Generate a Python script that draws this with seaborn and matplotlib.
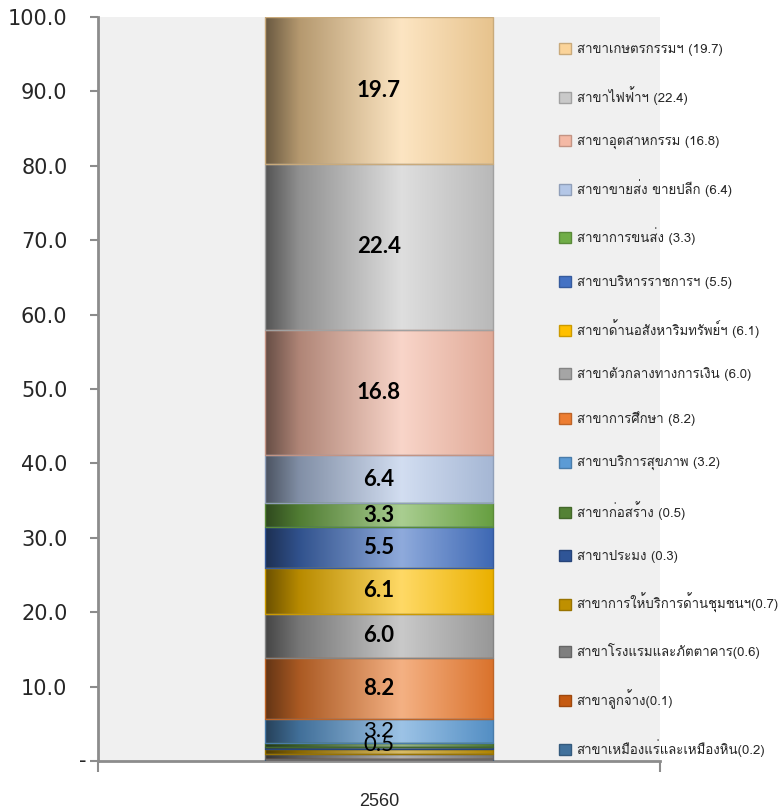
import numpy as np
import matplotlib
matplotlib.use("Agg")
import matplotlib.pyplot as plt
import matplotlib.colors as mcolors
from matplotlib.patches import Patch
from matplotlib import font_manager
from matplotlib.ft2font import FT2Font
import seaborn as sns

# ข้อมูล (เรียงจากล่างขึ้นบนของแท่ง)
year = "2560"
sectors = [
    "สาขาเหมืองแร่และเหมืองหิน", "สาขาลูกจ้าง", "สาขาโรงแรมและภัตตาคาร",
    "สาขาการให้บริการด้านชุมชนฯ", "สาขาประมง", "สาขาก่อสร้าง",
    "สาขาบริการสุขภาพ", "สาขาการศึกษา", "สาขาตัวกลางทางการเงิน",
    "สาขาด้านอสังหาริมทรัพย์ฯ", "สาขาบริหารราชการฯ", "สาขาการขนส่ง",
    "สาขาขายส่ง ขายปลีก", "สาขาอุตสาหกรรม", "สาขาไฟฟ้าฯ", "สาขาเกษตรกรรมฯ",
]
values = [0.2, 0.1, 0.6, 0.7, 0.3, 0.5, 3.2, 8.2, 6.0, 6.1, 5.5, 3.3, 6.4, 16.8, 22.4, 19.7]
legend_labels = [
    "สาขาเหมืองแร่และเหมืองหิน(0.2)", "สาขาลูกจ้าง(0.1)", "สาขาโรงแรมและภัตตาคาร(0.6)",
    "สาขาการให้บริการด้านชุมชนฯ(0.7)", "สาขาประมง (0.3)", "สาขาก่อสร้าง (0.5)",
    "สาขาบริการสุขภาพ (3.2)", "สาขาการศึกษา (8.2)", "สาขาตัวกลางทางการเงิน (6.0)",
    "สาขาด้านอสังหาริมทรัพย์ฯ (6.1)", "สาขาบริหารราชการฯ (5.5)", "สาขาการขนส่ง (3.3)",
    "สาขาขายส่ง ขายปลีก (6.4)", "สาขาอุตสาหกรรม (16.8)", "สาขาไฟฟ้าฯ (22.4)",
    "สาขาเกษตรกรรมฯ (19.7)",
]
colors = [
    "#41719C", "#C55A11", "#7F7F7F", "#BF9000", "#2F5597", "#548235",
    "#5B9BD5", "#ED7D31", "#A5A5A5", "#FFC000", "#4472C4", "#70AD47",
    "#B4C7E7", "#F4B9A5", "#C9C9C9", "#FBD49A",
]
# ป้ายตัวเลขในแท่ง: bold / normal / None (ไม่แสดง)
label_style = [None, None, None, None, None, "normal", "normal", "bold", "bold",
               "bold", "bold", "bold", "bold", "bold", "bold", "bold"]


def find_thai_font():
    # หาฟอนต์ที่มีอักษรไทย
    for f in font_manager.fontManager.ttflist:
        try:
            if FT2Font(f.fname).get_char_index(0x0E2A):
                return f.name
        except Exception:
            pass
    return "DejaVu Sans"


def gradient_image(color):
    base = np.array(mcolors.to_rgb(color))
    xs = np.linspace(0, 1, 200)
    keys = [0.0, 0.15, 0.6, 1.0]
    cols = [base * 0.42, base * 0.72, base + (1 - base) * 0.4, base * 0.92]
    img = np.zeros((1, len(xs), 3))
    for c in range(3):
        img[0, :, c] = np.interp(xs, keys, [k[c] for k in cols])
    return np.clip(img, 0, 1)


sns.set_style("white")
thai_font = find_thai_font()
plt.rcParams["font.family"] = ["DejaVu Sans"]

fig = plt.figure(figsize=(7.84, 8.11), dpi=100)
ax = fig.add_axes([0.125, 0.0617, 0.7168, 0.9173])
ax.set_facecolor("#F0F0F0")

bottom = 0.0
for name, val, col, style in zip(sectors, values, colors, label_style):
    sns.barplot(x=[year], y=[val], bottom=bottom, color=col, width=0.404,
                errorbar=None, ax=ax, saturation=1)
    p = ax.patches[-1]
    x0, w = p.get_x(), p.get_width()
    ax.imshow(gradient_image(col), extent=(x0, x0 + w, bottom, bottom + val),
              aspect="auto", origin="lower", zorder=2, interpolation="bilinear")
    p.set_facecolor("none")
    p.set_edgecolor(np.array(mcolors.to_rgb(col)) * 0.8)
    p.set_linewidth(1.0)
    p.set_zorder(3)
    if style is not None:
        ax.text(0, bottom + val / 2, f"{val:.1f}", ha="center", va="center",
                fontsize=16, fontweight=style, family="Lato", color="black", zorder=4)
    bottom += val

ax.set_xlim(-0.5, 0.5)
ax.set_ylim(0, 100)
ax.set_yticks(np.arange(0, 101, 10))
ax.set_yticklabels([""] + [f"{v:.1f}" for v in range(10, 101, 10)], fontsize=15)
ax.text(-0.027, 0, "-", transform=ax.get_yaxis_transform(), ha="center", va="center",
        fontsize=15)
ax.tick_params(axis="y", length=6, width=1.5, color="#8C8C8C", pad=16, left=True)
ax.set_xticks([0])
ax.set_xticklabels([year], fontsize=13, family="Liberation Sans")
ax.set_xticks([-0.5, 0.5], minor=True)
ax.tick_params(axis="x", which="major", length=0, pad=23)
ax.tick_params(axis="x", which="minor", length=8, width=1.5, color="#8C8C8C", bottom=True)
ax.set_xlabel("")
ax.set_ylabel("")

for s in ["top", "right"]:
    ax.spines[s].set_visible(False)
for s in ["left", "bottom"]:
    ax.spines[s].set_color("#8C8C8C")
    ax.spines[s].set_linewidth(2)

handles = [Patch(facecolor=c, edgecolor=np.array(mcolors.to_rgb(c)) * 0.8, linewidth=1)
           for c in colors]
ax.legend(handles[::-1], legend_labels[::-1], loc="upper left",
          bbox_to_anchor=(0.821, 0.965), frameon=False, borderaxespad=0, borderpad=0,
          handlelength=0.9, handleheight=0.9, handletextpad=0.4, labelspacing=2.27,
          prop={"family": [thai_font, "DejaVu Sans"], "size": 9.5})

fig.savefig("out.png", dpi=100)
